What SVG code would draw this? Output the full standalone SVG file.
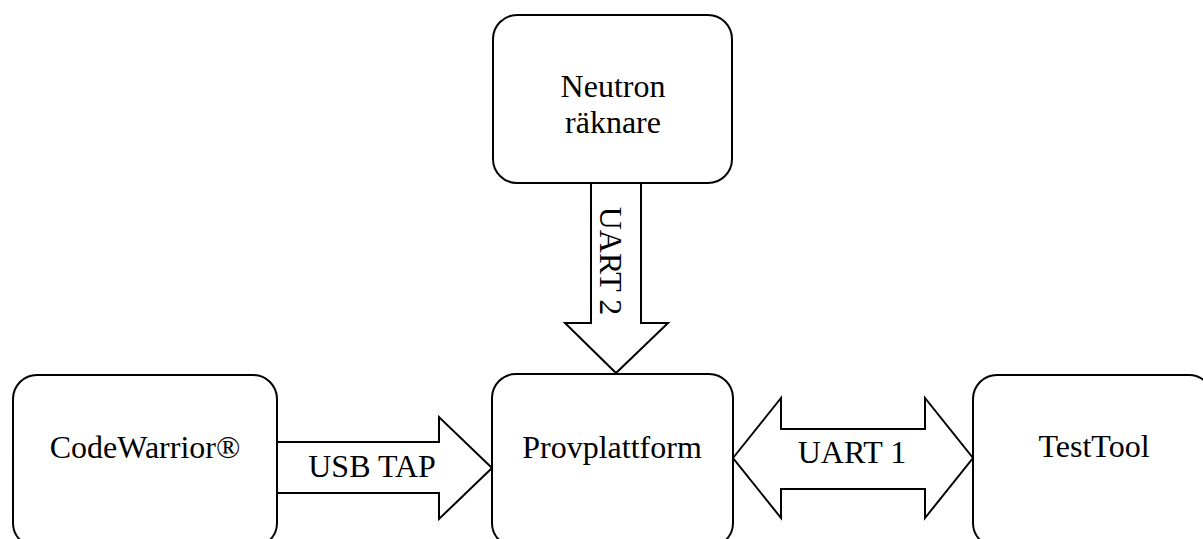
<svg xmlns="http://www.w3.org/2000/svg" width="1203" height="539" viewBox="0 0 1203 539">
<style>
.box{fill:#fff;stroke:#000;stroke-width:2}
.arr{fill:#fff;stroke:#000;stroke-width:2;stroke-linejoin:miter}
text{font-family:"Liberation Serif","Times New Roman",serif;font-size:32px;fill:#000;text-anchor:middle}
</style>
<rect width="1203" height="539" fill="#fff"/>
<g id="neutron">
<rect class="box" x="493" y="15" width="239" height="168" rx="24" ry="24"/>
<text x="613" y="97">Neutron</text>
<text x="613" y="133">räknare</text>
</g>
<g id="codewarrior">
<rect class="box" x="13" y="375" width="264" height="172" rx="24" ry="24"/>
<text x="145" y="458">CodeWarrior®</text>
</g>
<g id="provplattform">
<rect class="box" x="492" y="374" width="241" height="173" rx="24" ry="24"/>
<text x="612" y="458">Provplattform</text>
</g>
<g id="testtool">
<rect class="box" x="973" y="375" width="240" height="172" rx="24" ry="24"/>
<text x="1094" y="457">TestTool</text>
</g>
<g id="connectors">
<g id="uart2">
<polygon class="arr" points="591,183 641,183 641,323 668,323 616,373 565,323 591,323"/>
<text transform="translate(600,261) rotate(90)">UART 2</text>
</g>
<g id="usbtap">
<polygon class="arr" points="277,442 439,442 439,417 492,468 439,519 439,493 277,493"/>
<text x="372" y="477">USB TAP</text>
</g>
<g id="uart1">
<polygon class="arr" points="733,458 781,398 781,429 925,429 925,398 973,458 925,518 925,489 781,489 781,518"/>
<text x="852" y="463">UART 1</text>
</g>
</g>
</svg>
